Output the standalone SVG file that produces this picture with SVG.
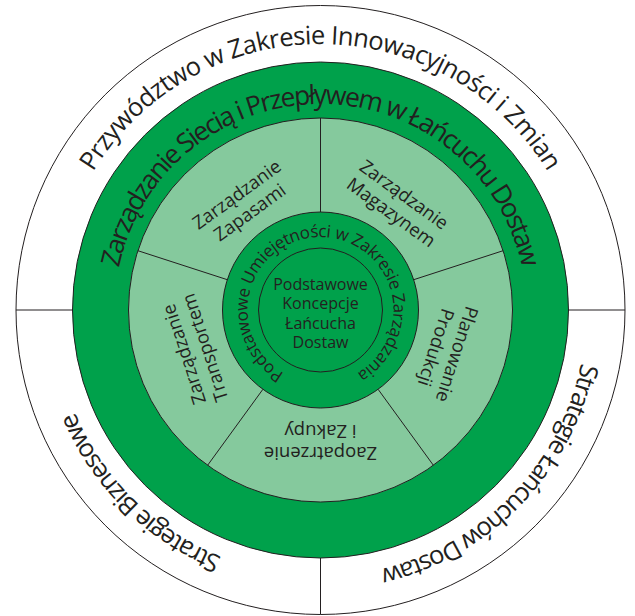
<svg xmlns="http://www.w3.org/2000/svg" width="635" height="616" viewBox="0 0 635 616">
<style>
.dark{fill:#00A14B;stroke:#231F20;stroke-width:1}
.light{fill:#85C99D;stroke:#231F20;stroke-width:1}
.ln{stroke:#231F20;stroke-width:1;fill:none}
.t{font-family:"Open Sans","Noto Sans",sans-serif;fill:#231F20}
.big{font-size:25.5px}
.mid{font-size:26.5px}
.sm{font-size:17px}
.core{font-size:16px}
.seg{font-size:18.5px;text-anchor:middle}
</style>
<defs>
<path id="pOuter" d="M 320.5,576 A 266 266 0 1 1 320.5,44 A 266 266 0 1 1 320.5,576"/>
<path id="pGreen" d="M 320.5,516 A 206 206 0 1 1 320.5,104 A 206 206 0 1 1 320.5,516"/>
<path id="pInner" d="M 320.5,383 A 73 73 0 1 1 320.5,237 A 73 73 0 1 1 320.5,383"/>
</defs>
<rect width="635" height="616" fill="#fff"/>
<g id="outer-ring">
<circle cx="320.5" cy="310" r="304.5" fill="#fff" stroke="#231F20" stroke-width="1"/>
<text class="t big" text-anchor="middle"><textPath href="#pOuter" startOffset="50%" textLength="545" lengthAdjust="spacing">Przywództwo w Zakresie Innowacyjności i Zmian</textPath></text>
<text class="t big" text-anchor="middle"><textPath href="#pOuter" startOffset="12.4%" textLength="212" lengthAdjust="spacing">Strategie Biznesowe</textPath></text>
<text class="t big" text-anchor="middle"><textPath href="#pOuter" startOffset="87.3%" textLength="304" lengthAdjust="spacing">Strategie Łańcuchów Dostaw</textPath></text>
</g>
<g id="network-ring">
<circle class="dark" cx="320.5" cy="310" r="248"/>
<text class="t mid" text-anchor="middle"><textPath href="#pGreen" startOffset="50%" textLength="562" lengthAdjust="spacing">Zarządzanie Siecią i Przepływem w Łańcuchu Dostaw</textPath></text>
</g>
<g id="functions-ring">
<circle class="light" cx="320.5" cy="310" r="192"/>
</g>
<g id="skills-ring">
<circle class="dark" cx="320.5" cy="310" r="98"/>
<text class="t sm" text-anchor="middle"><textPath href="#pInner" startOffset="50%" textLength="382" lengthAdjust="spacing">Podstawowe Umiejętności w Zakresie Zarządzania</textPath></text>
</g>
<g id="core">
<circle class="dark" cx="320.5" cy="310" r="62"/>
<text class="t core" text-anchor="middle"><tspan x="320.5" y="290">Podstawowe</tspan><tspan x="320.5" y="309.3">Koncepcje</tspan><tspan x="320.5" y="328.6">Łańcucha</tspan><tspan x="320.5" y="348">Dostaw</tspan></text>
</g>
<g id="connectors">
<line class="ln" x1="320.5" y1="212" x2="320.5" y2="118"/>
<line class="ln" x1="413.7" y1="279.7" x2="503.1" y2="250.7"/>
<line class="ln" x1="378.1" y1="389.3" x2="433.4" y2="465.3"/>
<line class="ln" x1="262.9" y1="389.3" x2="207.6" y2="465.3"/>
<line class="ln" x1="227.3" y1="279.7" x2="137.9" y2="250.7"/>
<line class="ln" x1="16" y1="310" x2="72.5" y2="310"/>
<line class="ln" x1="568.5" y1="310" x2="625" y2="310"/>
<line class="ln" x1="320.5" y1="558" x2="320.5" y2="614.5"/>
</g>
<g id="inventory" transform="translate(243,203) rotate(-36)">
<text class="t seg"><tspan x="0" y="-4">Zarządzanie</tspan><tspan x="0" y="18">Zapasami</tspan></text>
</g>
<g id="warehouse" transform="translate(398,203) rotate(36)">
<text class="t seg"><tspan x="0" y="-4">Zarządzanie</tspan><tspan x="0" y="18">Magazynem</tspan></text>
</g>
<g id="production" transform="translate(447,351.1) rotate(108)">
<text class="t seg"><tspan x="0" y="-4">Planowanie</tspan><tspan x="0" y="18">Produkcji</tspan></text>
</g>
<g id="procurement" transform="translate(320.5,443) rotate(180)">
<text class="t seg"><tspan x="0" y="-4">Zaopatrzenie</tspan><tspan x="0" y="18">i Zakupy</tspan></text>
</g>
<g id="transport" transform="translate(194,351.1) rotate(252)">
<text class="t seg"><tspan x="0" y="-4">Zarządzanie</tspan><tspan x="0" y="18">Transportem</tspan></text>
</g>
</svg>
